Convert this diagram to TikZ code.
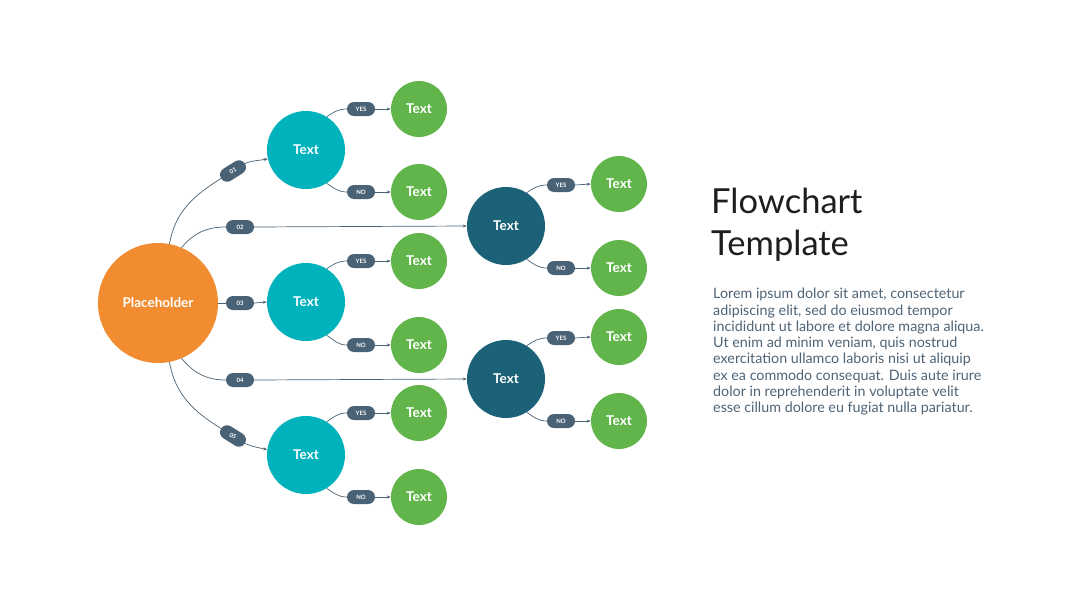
\documentclass[tikz,border=0pt]{standalone}
\usepackage{fontspec}
\setmainfont{Lato}
\usetikzlibrary{arrows.meta}
\definecolor{cOrange}{HTML}{F28C30}
\definecolor{cTeal}{HTML}{00B2BC}
\definecolor{cDark}{HTML}{1B6178}
\definecolor{cGreen}{HTML}{62B54A}
\definecolor{cSlate}{HTML}{4A6275}
\definecolor{cTitle}{HTML}{1E1E1E}
\definecolor{cBody}{HTML}{4F6476}
\begin{document}
\begin{tikzpicture}[x=1pt,y=1pt,
  circ/.style={circle,inner sep=0pt,text=white,font=\fontsize{13.5}{16}\selectfont\bfseries},
  phc/.style={circ,fill=cOrange,minimum size=120pt},
  tealc/.style={circ,fill=cTeal,minimum size=78pt},
  darkc/.style={circ,fill=cDark,minimum size=78pt},
  greenc/.style={circ,fill=cGreen,minimum size=56pt},
  pill/.style={rounded corners=7pt,fill=cSlate,text=white,minimum width=28pt,minimum height=14pt,inner sep=0pt,font=\fontsize{6}{7}\selectfont\bfseries},
  conn/.style={draw=cSlate,line width=0.7pt},
  arr/.style={conn,-{Stealth[length=4pt,width=3pt]}}
]
\useasboundingbox[fill=white] (0,0) rectangle (1080,-608);
% main circles
\node[phc] (ph) at (158,-303) {Placeholder};
\node[tealc] (t1) at (306,-150) {Text};
\node[tealc] (t2) at (306,-302) {Text};
\node[tealc] (t3) at (306,-455) {Text};
\node[darkc] (d1) at (506,-226) {Text};
\node[darkc] (d2) at (506,-379) {Text};
% green circles
\node[greenc] (g1) at (419,-109) {Text};
\node[greenc] (g2) at (419,-192) {Text};
\node[greenc] (g3) at (419,-261) {Text};
\node[greenc] (g4) at (419,-345) {Text};
\node[greenc] (g5) at (419,-413) {Text};
\node[greenc] (g6) at (419,-497) {Text};
\node[greenc] (g7) at (619,-184) {Text};
\node[greenc] (g8) at (619,-268) {Text};
\node[greenc] (g9) at (619,-337) {Text};
\node[greenc] (g10) at (619,-421) {Text};
% option pills
\node[pill,rotate=32] (o1) at (233,-171) {01};
\node[pill] (o2) at (240,-227) {02};
\node[pill] (o3) at (240,-303) {03};
\node[pill] (o4) at (240,-380) {04};
\node[pill,rotate=-32] (o5) at (233,-436) {05};
% yes/no pills
\node[pill] (y1) at (361,-109) {YES};
\node[pill] (n1) at (361,-192) {NO};
\node[pill] (y2) at (361,-261) {YES};
\node[pill] (n2) at (361,-345) {NO};
\node[pill] (y3) at (361,-413) {YES};
\node[pill] (n3) at (361,-497) {NO};
\node[pill] (y4) at (561,-185) {YES};
\node[pill] (n4) at (561,-268) {NO};
\node[pill] (y5) at (561,-338) {YES};
\node[pill] (n5) at (561,-421) {NO};
% placeholder connectors
\draw[conn] (ph.79) to[out=80,in=212] (o1.west);
\draw[arr] (o1.east) to[out=22,in=192] (t1.193);
\draw[conn] (ph.67) to[out=50,in=180] (o2.west);
\draw[arr] (o2.east) -- (d1.west);
\draw[conn] (ph.east) -- (o3.west);
\draw[arr] (o3.east) -- (t2.west);
\draw[conn] (ph.-67) to[out=-50,in=180] (o4.west);
\draw[arr] (o4.east) -- (d2.west);
\draw[conn] (ph.-79) to[out=-80,in=148] (o5.west);
\draw[arr] (o5.east) to[out=-22,in=168] (t3.172);
% yes/no connectors
\foreach \c/\y/\n/\gy/\gn in {t1/y1/n1/g1/g2, t2/y2/n2/g3/g4, t3/y3/n3/g5/g6, d1/y4/n4/g7/g8, d2/y5/n5/g9/g10}{
  \draw[conn] (\c.58) to[out=35,in=180] (\y.west);
  \draw[arr] (\y.east) -- (\gy.west);
  \draw[conn] (\c.-58) to[out=-35,in=180] (\n.west);
  \draw[arr] (\n.east) -- (\gn.west);
}
% title and body
\node[anchor=north west,inner sep=0pt,align=left,text=cTitle,font=\fontsize{34.5}{42}\selectfont] (title) at (711,-188) {Flowchart\\Template};
\node[anchor=north west,inner sep=0pt,align=left,text=cBody,font=\fontsize{14.3}{16.3}\selectfont] (body) at (713,-288) {Lorem ipsum dolor sit amet, consectetur\\adipiscing elit, sed do eiusmod tempor\\incididunt ut labore et dolore magna aliqua.\\Ut enim ad minim veniam, quis nostrud\\exercitation ullamco laboris nisi ut aliquip\\ex ea commodo consequat. Duis aute irure\\dolor in reprehenderit in voluptate velit\\esse cillum dolore eu fugiat nulla pariatur.};
\end{tikzpicture}
\end{document}
